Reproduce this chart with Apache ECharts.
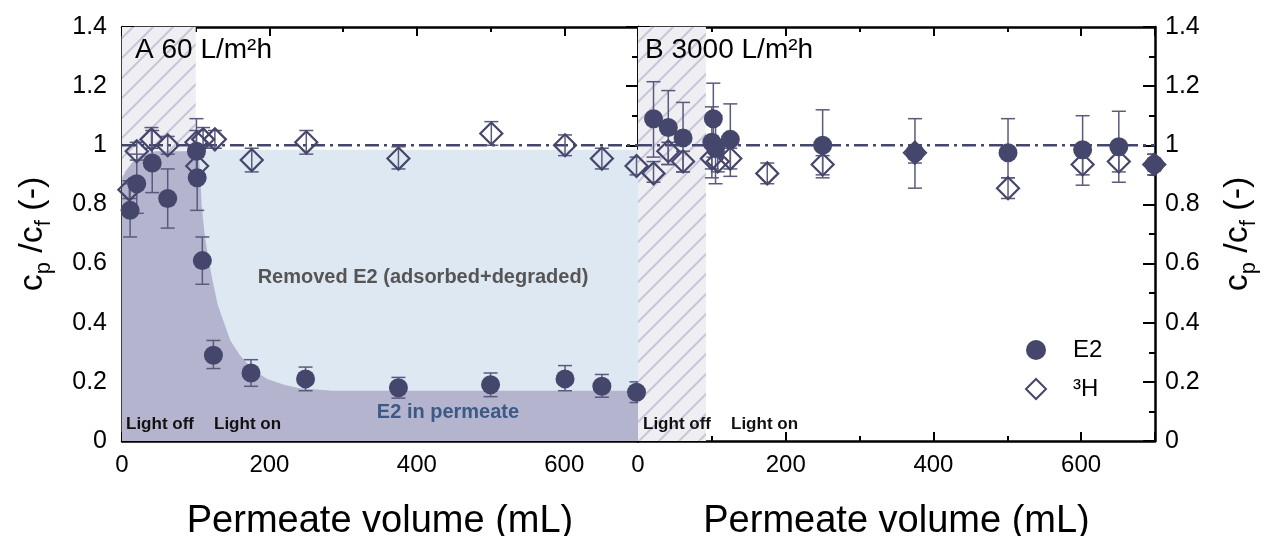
<!DOCTYPE html>
<html>
<head>
<meta charset="utf-8">
<script src="https://cdn.jsdelivr.net/npm/echarts@6/dist/echarts.min.js"></script>
<style>
  html, body { margin: 0; padding: 0; background: #fff; }
  #chart { width: 1265px; height: 536px; }
</style>
</head>
<body>
<div id="chart"></div>
<script>
// panel A, 60 L/m2h : [volume (mL), cp/cf, error low, error high]
const aE2 = [
  [11, 0.78, 0.69, 0.87], [20, 0.87, 0.77, 0.97], [41, 0.94, 0.84, 1.05],
  [62, 0.82, 0.72, 0.92], [101, 0.98, 0.88, 1.09], [102, 0.89, 0.78, 1.0],
  [109, 0.61, 0.53, 0.69], [124, 0.29, 0.245, 0.34], [175, 0.23, 0.185, 0.275],
  [249, 0.21, 0.17, 0.25], [375, 0.18, 0.145, 0.215], [500, 0.19, 0.15, 0.23],
  [601, 0.21, 0.17, 0.255], [651, 0.185, 0.148, 0.225], [698, 0.165, 0.13, 0.2]
]
const aH3 = [
  [10, 0.85, 0.82, 0.88], [20, 0.98, 0.95, 1.01], [40, 1.02, 0.99, 1.06],
  [62, 1.0, 0.97, 1.03], [101, 1.01, 0.98, 1.05], [102, 0.93, 0.9, 0.96],
  [110, 1.02, 0.99, 1.06], [126, 1.02, 0.99, 1.05], [176, 0.95, 0.91, 0.99],
  [250, 1.01, 0.97, 1.05], [375, 0.955, 0.92, 0.995], [501, 1.04, 1.0, 1.08],
  [601, 1.0, 0.965, 1.035], [651, 0.955, 0.92, 0.99], [698, 0.93, 0.9, 0.96]
]
// panel B, 3000 L/m2h
const bE2 = [
  [21, 1.09, 0.96, 1.215], [41, 1.06, 0.935, 1.185], [61, 1.025, 0.91, 1.145],
  [100, 1.01, 0.89, 1.13], [102, 1.09, 0.96, 1.21], [105, 0.99, 0.87, 1.1],
  [125, 1.02, 0.895, 1.14], [250, 1.0, 0.9, 1.12], [375, 0.975, 0.855, 1.09],
  [501, 0.975, 0.89, 1.09], [602, 0.985, 0.865, 1.1], [651, 0.995, 0.875, 1.115],
  [699, 0.935, 0.9, 0.97]
]
const bH3 = [
  [21, 0.905, 0.875, 0.945], [41, 0.98, 0.935, 1.01], [61, 0.945, 0.91, 0.98],
  [100, 0.955, 0.92, 0.99], [108, 0.945, 0.91, 0.98], [125, 0.955, 0.92, 0.99],
  [175, 0.905, 0.87, 0.94], [250, 0.935, 0.89, 0.965], [375, 0.975, 0.94, 1.0],
  [501, 0.855, 0.82, 0.89], [602, 0.935, 0.9, 0.975], [651, 0.945, 0.91, 0.985],
  [699, 0.935, 0.9, 0.97]
]
// shaded areas of panel A
const permeateCurve = [
  [0, 0.88], [4, 0.91], [15, 0.945], [28, 0.97], [45, 0.98], [100, 0.98],
  [104, 0.97], [106, 0.9], [108, 0.8], [112, 0.7], [117, 0.62], [123, 0.54],
  [130, 0.46], [137, 0.41], [147, 0.34], [160, 0.29], [178, 0.24], [197, 0.21],
  [220, 0.19], [241, 0.178], [286, 0.17], [700, 0.17]
]
const removedTop = [[100, 0.985], [700, 0.985]]
const refLine = [[0, 1], [700, 1]]
const lightOffA = [[0, 100]]
const lightOffB = [[0, 92]]

const font = 'Liberation Sans, Arial, sans-serif'
const ink = '#45466b'
const errInk = '#5a5b7c'

// hatch for the "light off" period
const tile = document.createElement('canvas')
tile.width = 20
tile.height = 20
const tc = tile.getContext('2d')
tc.fillStyle = '#efeff3'
tc.fillRect(0, 0, 20, 20)
tc.strokeStyle = '#c6c6d8'
tc.lineWidth = 2
tc.beginPath()
tc.moveTo(-2, 2); tc.lineTo(2, -2)
tc.moveTo(0, 20); tc.lineTo(20, 0)
tc.moveTo(18, 22); tc.lineTo(22, 18)
tc.stroke()

function hatchRect(params, api) {
  const p0 = api.coord([api.value(0), 1.4])
  const p1 = api.coord([api.value(1), 0])
  return {
    type: 'rect',
    shape: { x: p0[0], y: p0[1], width: p1[0] - p0[0], height: p1[1] - p0[1] },
    style: { fill: { image: tile, repeat: 'repeat' } }
  }
}

function errorBars(params, api) {
  const x = api.value(0)
  const top = api.coord([x, api.value(2)])
  const bot = api.coord([x, api.value(1)])
  const w = 7
  const style = { stroke: errInk, lineWidth: 1.5 }
  return {
    type: 'group',
    children: [
      { type: 'line', shape: { x1: top[0], y1: top[1], x2: bot[0], y2: bot[1] }, style },
      { type: 'line', shape: { x1: top[0] - w, y1: top[1], x2: top[0] + w, y2: top[1] }, style },
      { type: 'line', shape: { x1: bot[0] - w, y1: bot[1], x2: bot[0] + w, y2: bot[1] }, style }
    ]
  }
}

function xAxis(grid, pos, labels) {
  return {
    type: 'value', gridIndex: grid, position: pos, min: 0, max: 700, interval: 200,
    splitLine: { show: false },
    axisLine: { onZero: false, lineStyle: { color: '#000', width: 2.5 } },
    axisTick: { inside: true, length: 9, lineStyle: { color: '#000', width: 2 } },
    minorTick: { show: true, splitNumber: 2, length: 5, lineStyle: { color: '#000', width: 2 } },
    axisLabel: {
      show: labels, color: '#000', fontSize: 24, fontFamily: font, margin: 12,
      showMinLabel: true, showMaxLabel: false, hideOverlap: false
    },
    name: labels ? 'Permeate volume (mL)' : '',
    nameLocation: 'middle', nameGap: 62,
    nameTextStyle: { color: '#000', fontSize: 38, fontFamily: font }
  }
}

function yAxis(grid, pos, labels) {
  return {
    type: 'value', gridIndex: grid, position: pos, min: 0, max: 1.4, interval: 0.2,
    splitLine: { show: false },
    axisLine: { onZero: false, lineStyle: { color: '#000', width: 2.5 } },
    axisTick: { inside: true, length: 12, lineStyle: { color: '#000', width: 2 } },
    minorTick: { show: true, splitNumber: 2, length: 6, lineStyle: { color: '#000', width: 2 } },
    axisLabel: { show: labels, color: '#000', fontSize: 25, fontFamily: font, margin: pos === 'left' ? 15 : 10 },
    name: labels ? '{c|c}{s|p}{c| /c}{s|f}{c| (-)}' : '',
    nameLocation: 'middle', nameRotate: 90, nameGap: pos === 'left' ? 67 : 61,
    nameTextStyle: {
      color: '#000',
      rich: {
        c: { fontSize: 34, lineHeight: 44, fontFamily: font, color: '#000', verticalAlign: 'middle' },
        s: { fontSize: 22, lineHeight: 22, fontFamily: font, color: '#000', verticalAlign: 'bottom' }
      }
    }
  }
}

function panelSeries(x, y, e2, h3, lightOff) {
  return [
    {
      type: 'custom', xAxisIndex: x, yAxisIndex: y, z: 1, clip: true,
      renderItem: hatchRect, data: lightOff, silent: true
    },
    {
      type: 'line', xAxisIndex: x, yAxisIndex: y, z: 4, symbol: 'none',
      data: refLine, silent: true,
      lineStyle: { color: ink, width: 2.5, type: [14, 5, 3, 5] }
    },
    {
      type: 'custom', xAxisIndex: x, yAxisIndex: y, z: 5, clip: true,
      renderItem: errorBars, encode: { x: 0, y: [1, 2] },
      data: e2.map(r => [r[0], r[2], r[3]]).concat(h3.map(r => [r[0], r[2], r[3]]))
    },
    {
      name: '³H', type: 'scatter', xAxisIndex: x, yAxisIndex: y, z: 6, clip: true,
      symbol: 'diamond', symbolSize: 22,
      itemStyle: { color: 'rgba(255,255,255,0)', borderColor: ink, borderWidth: 2.2, opacity: 1 },
      data: h3.map(r => [r[0], r[1]])
    },
    {
      name: 'E2', type: 'scatter', xAxisIndex: x, yAxisIndex: y, z: 7, clip: true,
      symbol: 'circle', symbolSize: 19,
      itemStyle: { color: ink, opacity: 1 },
      data: e2.map(r => [r[0], r[1]])
    }
  ]
}

const chart = echarts.init(document.getElementById('chart'))

const texts = [
  { x: 135, y: 50, text: 'A 60 L/m²h', size: 28, weight: 'normal', color: '#000', align: 'left' },
  { x: 645, y: 50, text: 'B 3000 L/m²h', size: 28, weight: 'normal', color: '#000', align: 'left' },
  { x: 423, y: 277, text: 'Removed E2 (adsorbed+degraded)', size: 20, weight: 'bold', color: '#555555', align: 'center' },
  { x: 448, y: 412, text: 'E2 in permeate', size: 20, weight: 'bold', color: '#3c5a84', align: 'center' },
  { x: 126, y: 424, text: 'Light off', size: 17, weight: 'bold', color: '#111', align: 'left' },
  { x: 214, y: 424, text: 'Light on', size: 17, weight: 'bold', color: '#111', align: 'left' },
  { x: 643, y: 424, text: 'Light off', size: 17, weight: 'bold', color: '#111', align: 'left' },
  { x: 731, y: 424, text: 'Light on', size: 17, weight: 'bold', color: '#111', align: 'left' }
]

chart.setOption({
  animation: false,
  backgroundColor: '#fff',
  grid: [
    { left: 122, top: 27, width: 516, height: 414, containLabel: false, outerBoundsMode: 'none' },
    { left: 638, top: 27, width: 517, height: 414, containLabel: false, outerBoundsMode: 'none' }
  ],
  xAxis: [xAxis(0, 'bottom', true), xAxis(0, 'top', false), xAxis(1, 'bottom', true), xAxis(1, 'top', false)],
  yAxis: [yAxis(0, 'left', true), yAxis(0, 'right', false), yAxis(1, 'left', false), yAxis(1, 'right', true)],
  legend: {
    orient: 'vertical', left: 1020, top: 333,
    itemWidth: 20, itemHeight: 20, itemGap: 15,
    data: [{ name: 'E2', icon: 'circle' }, { name: '³H', icon: 'diamond' }],
    textStyle: { color: '#000', fontSize: 24, fontFamily: font, padding: [0, 0, 0, 22] }
  },
  graphic: texts.map(t => ({
    type: 'text', left: t.align === 'center' ? undefined : t.x, x: t.align === 'center' ? t.x : undefined,
    y: t.y, z: 100,
    style: {
      text: t.text, fill: t.color, fontSize: t.size, fontWeight: t.weight, fontFamily: font,
      textAlign: t.align, textVerticalAlign: 'middle'
    }
  })),
  series: [
    {
      type: 'line', xAxisIndex: 0, yAxisIndex: 0, z: 2, symbol: 'none', silent: true,
      data: removedTop, lineStyle: { width: 0 },
      areaStyle: { color: '#dee8f2', opacity: 1 }
    },
    {
      type: 'line', xAxisIndex: 0, yAxisIndex: 0, z: 3, symbol: 'none', silent: true,
      data: permeateCurve, lineStyle: { width: 0 },
      areaStyle: { color: '#b4b4ce', opacity: 1 }
    }
  ].concat(panelSeries(0, 0, aE2, aH3, lightOffA), panelSeries(2, 2, bE2, bH3, lightOffB))
})
</script>
</body>
</html>
